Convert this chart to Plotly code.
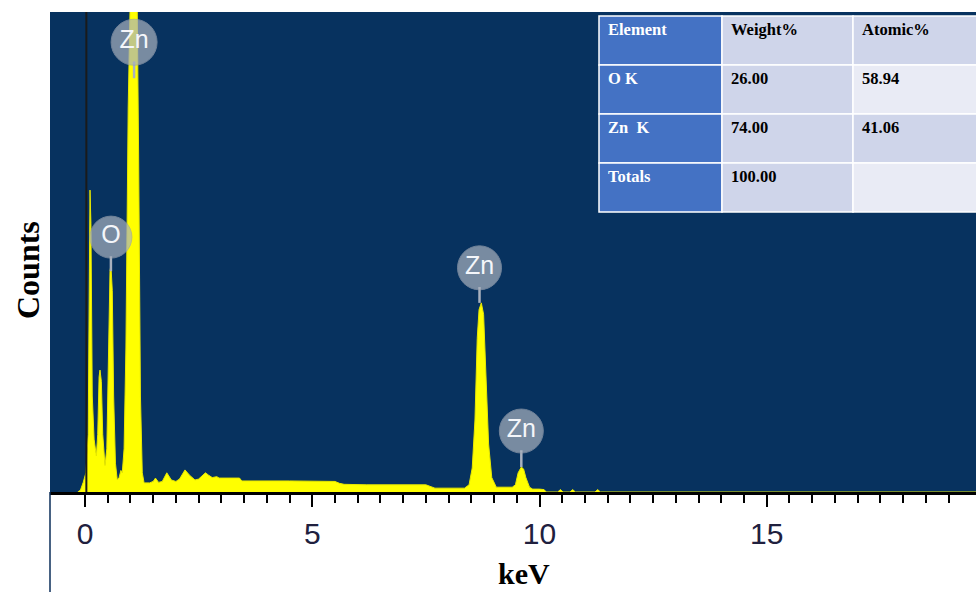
import plotly.graph_objects as go

# ---------------- data ----------------
energy_kev = [-0.16, -0.10, -0.04, 0.02, 0.07, 0.09, 0.11, 0.13, 0.16, 0.20, 0.25,
              0.28, 0.31, 0.33, 0.36, 0.39, 0.44, 0.48, 0.52, 0.55, 0.57, 0.60,
              0.63, 0.67, 0.71, 0.75, 0.79, 0.82, 0.86, 0.90, 0.95, 1.00, 1.03,
              1.10, 1.14, 1.18, 1.22, 1.26, 1.30, 1.42, 1.50, 1.55, 1.62, 1.70,
              1.80, 1.90, 2.00, 2.08, 2.20, 2.30, 2.42, 2.50, 2.65, 2.72, 2.80,
              2.90, 2.95, 3.40, 3.45, 4.50, 5.50, 5.60, 5.70, 6.20, 7.50, 7.70,
              8.20, 8.35, 8.45, 8.52, 8.58, 8.63, 8.67, 8.72, 8.77, 8.82, 8.88,
              8.95, 9.05, 9.40, 9.47, 9.53, 9.60, 9.65, 9.70, 9.78, 9.85, 10.00,
              10.10, 10.15, 10.40, 10.46, 10.52, 10.67, 10.73, 10.79, 11.22,
              11.28, 11.34, 19.70]
counts = [0, 4, 20, 40, 120, 500, 629, 560, 200, 110, 75,
          120, 240, 254, 230, 120, 55, 90, 300, 460, 473, 420,
          200, 60, 25, 30, 45, 40, 90, 300, 800, 1150, 1200,
          1200, 1100, 700, 200, 40, 19, 19, 22, 29, 20, 22,
          40, 25, 22, 27, 46, 35, 25, 27, 40, 35, 30,
          32, 29, 29, 23, 23, 22, 18, 16, 15, 15, 8,
          8, 8, 15, 50, 150, 320, 380, 394, 370, 250, 100,
          30, 10, 10, 15, 40, 52, 48, 30, 10, 6, 6,
          5, 0, 0, 5, 0, 0, 5, 0, 0,
          5, 0, 0]

label_text = ["Zn", "O", "Zn", "Zn"]
label_kev = [1.08, 0.57, 8.68, 9.60]
label_counts = [937, 531, 467, 127]
stem_bottom_counts = [862, 460, 394, 52]

x_tick_vals = [0, 5, 10, 15]
x_tick_text = ["0", "5", "10", "15"]

table_header = ["Element", "Weight%", "Atomic%"]
table_element = ["O K", "Zn  K", "Totals"]
table_weight = ["26.00", "74.00", "100.00"]
table_atomic = ["58.94", "41.06", ""]

# ---------------- geometry helpers ----------------
W, H = 976, 592
ML, MR, MT, MB = 50, 0, 12, 100
PW, PH = W - ML - MR, H - MT - MB


def pxx(p):
    return (p - ML) / PW


def pxy(p):
    return (H - MB - p) / PH


fig = go.Figure()

fig.add_trace(go.Scatter(
    x=energy_kev, y=counts, mode="lines", fill="tozeroy",
    fillcolor="#FFFF00", line=dict(color="#E8E800", width=1),
    hoverinfo="skip", showlegend=False))

# stems of the peak labels
sx, sy = [], []
for k, c, b in zip(label_kev, label_counts, stem_bottom_counts):
    sx += [k, k, None]
    sy += [c - 40, b, None]
fig.add_trace(go.Scatter(
    x=sx, y=sy, mode="lines", line=dict(color="#A9B1BE", width=2.5),
    hoverinfo="skip", showlegend=False))

# label badges
fig.add_trace(go.Scatter(
    x=label_kev, y=label_counts, mode="markers+text", text=label_text,
    textposition="middle center",
    marker=dict(symbol="circle", size=[46, 42, 44, 44], color="#A9B1BE",
                line=dict(color="#9AA3B1", width=1)),
    textfont=dict(family="Liberation Sans, Arial", size=25, color="#F4F6FA"),
    hoverinfo="skip", showlegend=False))

shapes = []
annotations = []

# vertical marker line at 0 keV
shapes.append(dict(type="line", xref="x", yref="paper", x0=0.03, x1=0.03,
                   y0=0, y1=1, line=dict(color="#1A1A1A", width=2), layer="above"))
# thin border of the lower-left white region
shapes.append(dict(type="line", xref="paper", yref="paper", x0=0, x1=0,
                   y0=pxy(H), y1=0, line=dict(color="#0B2E5A", width=1.5)))

# ---------------- table ----------------
col_edges = [599, 722, 853, 1000]
row_edges = [16, 65, 114, 163, 212]
col3_fill = ["#CFD5EA", "#E9EBF5", "#CFD5EA", "#E9EBF5"]
rows = [table_header] + [[e, w, a] for e, w, a in zip(table_element, table_weight, table_atomic)]
for r in range(4):
    for c in range(3):
        if c == 0:
            fill = "#4472C4"
        elif c == 1:
            fill = "#CFD5EA"
        else:
            fill = col3_fill[r]
        shapes.append(dict(type="rect", xref="paper", yref="paper",
                           x0=pxx(col_edges[c]), x1=pxx(col_edges[c + 1]),
                           y0=pxy(row_edges[r + 1]), y1=pxy(row_edges[r]),
                           fillcolor=fill, line=dict(color="#FFFFFF", width=1.5),
                           layer="above"))
        txt = rows[r][c]
        if txt:
            annotations.append(dict(
                xref="paper", yref="paper", x=pxx(col_edges[c] + 7),
                y=pxy(row_edges[r] + 2), xanchor="left", yanchor="top",
                text="<b>" + txt.replace(" ", "&nbsp;") + "</b>", showarrow=False,
                font=dict(family="Liberation Serif, Times New Roman", size=16.5,
                          color="#FFFFFF" if c == 0 else "#000000")))

# axis titles
annotations.append(dict(xref="paper", yref="paper", x=pxx(28), y=pxy(270),
                        text="<b>Counts</b>", textangle=-90, showarrow=False,
                        xanchor="center", yanchor="middle",
                        font=dict(family="Liberation Serif, Times New Roman",
                                  size=32, color="#000000")))
annotations.append(dict(xref="paper", yref="paper", x=pxx(524), y=pxy(573),
                        text="<b>keV</b>", showarrow=False,
                        xanchor="center", yanchor="middle",
                        font=dict(family="Liberation Serif, Times New Roman",
                                  size=30, color="#000000")))

minor_vals = [v / 2 for v in range(1, 39) if v % 10 != 0]

fig.update_layout(
    width=W, height=H,
    margin=dict(l=ML, r=MR, t=MT, b=MB, pad=0),
    paper_bgcolor="#FFFFFF", plot_bgcolor="#07325F",
    shapes=shapes, annotations=annotations,
    xaxis=dict(range=[(ML - 85) / 45.45, (W - 85) / 45.45], showgrid=False,
               zeroline=False, showline=True, linecolor="#000000", linewidth=3,
               tickmode="array", tickvals=x_tick_vals, ticktext=x_tick_text,
               ticks="outside", ticklen=12, tickwidth=2, tickcolor="#000000",
               ticklabelstandoff=1,
               tickfont=dict(family="Liberation Sans, Arial", size=30, color="#20203E"),
               minor=dict(tickmode="array", tickvals=minor_vals, ticks="outside",
                          ticklen=8, tickwidth=2, tickcolor="#000000", showgrid=False)),
    yaxis=dict(range=[0, 1000], showgrid=False, zeroline=False, showline=False,
               showticklabels=False, ticks=""),
)

fig.write_html("out.html")
